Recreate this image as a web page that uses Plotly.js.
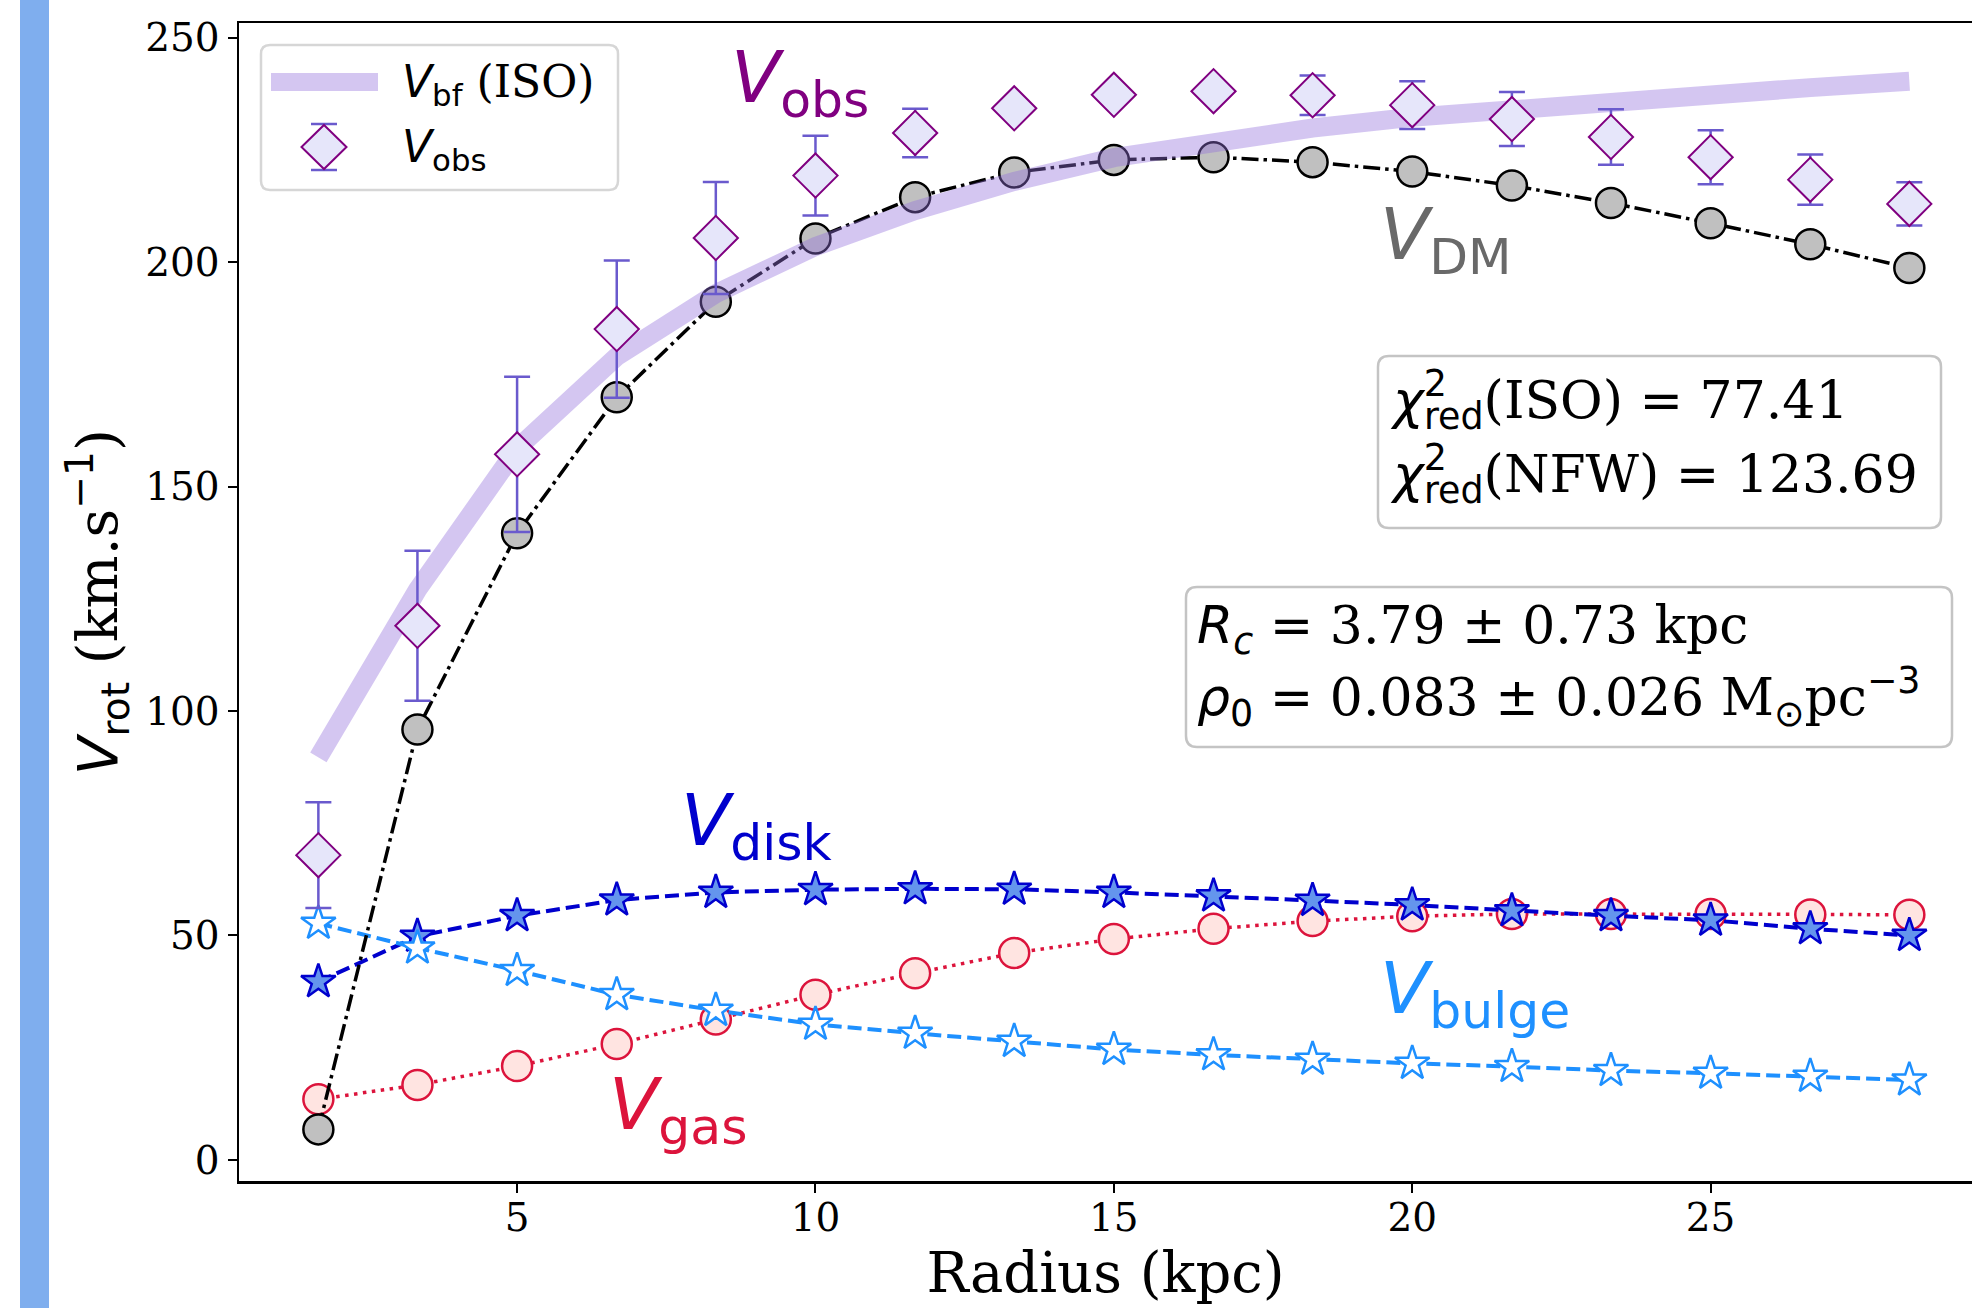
<!DOCTYPE html>
<html>
<head>
<meta charset="utf-8">
<script src="https://cdn.plot.ly/plotly-3.0.1.min.js"></script>
<style>
  html, body { margin: 0; padding: 0; background: #ffffff; overflow: hidden; }
  #chart { position: absolute; left: 0; top: 0; width: 1972px; height: 1308px; }
  #bar { position: absolute; left: 20px; top: 0; width: 29px; height: 1308px; background: #7FAEEE; z-index: 5; }
</style>
</head>
<body>
<div id="chart"></div>
<div id="bar"></div>
<script>
// ---- data ----
const radius = [1.67, 3.33, 5.00, 6.67, 8.33, 10.00, 11.67, 13.33, 15.00, 16.67, 18.33, 20.00, 21.67, 23.33, 25.00, 26.67, 28.33];
const vObs    = [67.9, 119.0, 157.2, 185.1, 205.4, 219.3, 228.8, 234.3, 237.3, 238.1, 237.2, 235.0, 231.9, 227.9, 223.4, 218.4, 213.0];
const vObsErr = [11.8, 16.7, 17.3, 15.3, 12.5, 8.9, 5.4, 1.5, 1.0, 1.0, 4.4, 5.3, 6.0, 6.2, 6.0, 5.6, 4.8];
const vBf     = [89.7, 127.0, 158.5, 179.0, 193.0, 203.5, 211.5, 218.0, 223.3, 227.0, 229.9, 232.3, 234.2, 235.9, 237.4, 238.9, 240.3];
const vDM     = [6.8, 95.9, 139.6, 169.9, 191.2, 205.3, 214.5, 220.0, 222.8, 223.4, 222.3, 220.2, 217.1, 213.2, 208.7, 204.0, 198.7];
const vDisk   = [39.7, 49.8, 54.4, 57.9, 59.6, 60.2, 60.4, 60.3, 59.6, 58.8, 57.8, 56.8, 55.5, 54.4, 53.4, 51.5, 50.0];
const vGas    = [13.5, 16.7, 20.9, 25.8, 31.3, 36.8, 41.6, 46.1, 49.2, 51.5, 53.2, 54.3, 54.8, 54.8, 54.8, 54.7, 54.6];
const vBulge  = [52.7, 47.2, 42.2, 36.8, 33.3, 30.2, 28.2, 26.4, 24.6, 23.4, 22.4, 21.5, 20.8, 19.9, 19.3, 18.6, 17.8];
const xTicks = [5, 10, 15, 20, 25];
const yTicks = [0, 50, 100, 150, 200, 250];

// ---- helpers for decorations (pixel -> paper) ----
const PL = 239, PR = 1972, PT = 23, PB = 1181;
const px = p => (p - PL) / (PR - PL);
const py = p => (PB - p) / (PB - PT);
const P = (x, y) => px(x).toFixed(5) + ',' + py(y).toFixed(5);
function roundRect(x0, y0, x1, y1, r) {
  return 'M' + P(x0 + r, y0) + ' L' + P(x1 - r, y0) + ' Q' + P(x1, y0) + ' ' + P(x1, y0 + r) +
         ' L' + P(x1, y1 - r) + ' Q' + P(x1, y1) + ' ' + P(x1 - r, y1) +
         ' L' + P(x0 + r, y1) + ' Q' + P(x0, y1) + ' ' + P(x0, y1 - r) +
         ' L' + P(x0, y0 + r) + ' Q' + P(x0, y0) + ' ' + P(x0 + r, y0) + ' Z';
}
const S = s => '<span style="font-family:DejaVu Sans">' + s + '</span>';

const traces = [
  { x: radius, y: vGas, mode: 'lines+markers', name: 'V_gas',
    line: { color: 'crimson', width: 3.5, dash: '3.5px,5.5px' },
    marker: { symbol: 'circle', size: 30, color: 'mistyrose', line: { color: 'crimson', width: 2.5 } } },
  { x: radius, y: vDisk, mode: 'lines+markers', name: 'V_disk',
    line: { color: 'mediumblue', width: 4, dash: '14px,6px' },
    marker: { symbol: 'star', size: 26, color: 'cornflowerblue', line: { color: 'mediumblue', width: 2.5 } } },
  { x: radius, y: vBulge, mode: 'lines+markers', name: 'V_bulge',
    line: { color: 'dodgerblue', width: 4, dash: '14px,6px' },
    marker: { symbol: 'star', size: 26, color: 'white', line: { color: 'dodgerblue', width: 2.5 } } },
  { x: radius, y: vDM, mode: 'lines+markers', name: 'V_DM',
    line: { color: 'black', width: 3.5, dash: '17px,5px,3.5px,5px' },
    marker: { symbol: 'circle', size: 30, color: 'silver', line: { color: 'black', width: 2.5 } } },
  { x: radius, y: vBf, mode: 'lines', name: 'V_bf (ISO)',
    line: { color: 'rgba(147,112,219,0.4)', width: 19 } },
  { x: radius, y: vObs, mode: 'markers', name: 'V_obs',
    error_y: { type: 'data', array: vObsErr, visible: true, color: 'slateblue', thickness: 2.5, width: 13 },
    marker: { symbol: 'diamond', size: 34, color: 'lavender', line: { color: 'purple', width: 2 } } }
];

const shapes = [
  // legend frame
  { type: 'path', xref: 'paper', yref: 'paper', path: roundRect(261, 45, 618, 190, 9),
    fillcolor: 'rgba(255,255,255,0.8)', line: { color: '#d6d6d6', width: 2.5 } },
  // legend glyph: fit band
  { type: 'line', xref: 'paper', yref: 'paper', x0: px(271), x1: px(378), y0: py(82), y1: py(82),
    line: { color: 'rgba(147,112,219,0.4)', width: 18 } },
  // legend glyph: error bar + diamond
  { type: 'line', xref: 'paper', yref: 'paper', x0: px(324), x1: px(324), y0: py(124), y1: py(170),
    line: { color: 'slateblue', width: 2.5 } },
  { type: 'line', xref: 'paper', yref: 'paper', x0: px(311), x1: px(337), y0: py(124), y1: py(124),
    line: { color: 'slateblue', width: 2.5 } },
  { type: 'line', xref: 'paper', yref: 'paper', x0: px(311), x1: px(337), y0: py(170), y1: py(170),
    line: { color: 'slateblue', width: 2.5 } },
  { type: 'path', xref: 'paper', yref: 'paper',
    path: 'M' + P(324, 125) + ' L' + P(346.5, 147) + ' L' + P(324, 169) + ' L' + P(301.5, 147) + ' Z',
    fillcolor: 'lavender', line: { color: 'purple', width: 2 } },
  // fit-statistics boxes
  { type: 'path', xref: 'paper', yref: 'paper', path: roundRect(1378, 356, 1941, 528, 11),
    fillcolor: 'rgba(255,255,255,0.8)', line: { color: '#c4c4c4', width: 2.5 } },
  { type: 'path', xref: 'paper', yref: 'paper', path: roundRect(1186, 587, 1952, 747, 11),
    fillcolor: 'rgba(255,255,255,0.8)', line: { color: '#c4c4c4', width: 2.5 } }
];

const serif = 'DejaVu Serif';
const sans = 'DejaVu Sans';
const ann = (xp, yp, text, size, family, color) => ({
  xref: 'paper', yref: 'paper', x: px(xp), y: py(yp), xanchor: 'left', yanchor: 'top',
  text: text, showarrow: false, font: { family: family, size: size, color: color || 'black' }
});
const lab = (xd, yd, text, color) => ({
  xref: 'x', yref: 'y', x: xd, y: yd, xanchor: 'left', yanchor: 'top', text: text,
  showarrow: false, font: { family: sans, size: 72, color: color }
});

const annotations = [
  // legend texts
  ann(400, 54, S('<i>V</i><sub>bf</sub>') + ' (ISO)', 44, serif),
  ann(400, 119, '<i>V</i><sub>obs</sub>', 44, sans),
  // chi-square box
  ann(1388, 360, S('<i>χ</i>') + '<sup><span style="font-family:DejaVu Sans;letter-spacing:-23px">2</span></sup><sub>' + S('red') + '</sub>(ISO) ' + S('=') + ' 77.41', 52, serif),
  ann(1388, 434, S('<i>χ</i>') + '<sup><span style="font-family:DejaVu Sans;letter-spacing:-23px">2</span></sup><sub>' + S('red') + '</sub>(NFW) ' + S('=') + ' 123.69', 52, serif),
  // ISO parameter box
  ann(1195, 593, S('<i>R</i><sub><i>c</i></sub> =') + ' 3.79 ± 0.73 kpc', 52, serif),
  ann(1195, 657, S('<i>ρ</i><sub>0</sub> =') + ' 0.083 ± 0.026 M<sub>' + S('⊙') + '</sub>pc<sup>' + S('−3') + '</sup>', 52, serif),
  // curve labels
  lab(8.55, 251.1, '<i>V</i><sub>obs</sub>', 'purple'),
  lab(19.43, 216.2, '<i>V</i><sub>DM</sub>', 'dimgray'),
  lab(7.72, 85.6, '<i>V</i><sub>disk</sub>', 'mediumblue'),
  lab(6.51, 22.2, '<i>V</i><sub>gas</sub>', 'crimson'),
  lab(19.43, 48.1, '<i>V</i><sub>bulge</sub>', 'dodgerblue')
];

const layout = {
  width: 1972, height: 1308,
  margin: { l: PL, r: 1972 - PR, t: PT, b: 1308 - PB, pad: 0 },
  paper_bgcolor: 'white', plot_bgcolor: 'white',
  showlegend: false,
  xaxis: {
    range: [0.34, 29.38], tickvals: xTicks, ticktext: xTicks.map(String),
    showgrid: false, zeroline: false, showline: true, mirror: true,
    linecolor: 'black', linewidth: 2.5, ticks: 'outside', ticklen: 9, tickwidth: 2, tickcolor: 'black',
    tickfont: { family: serif, size: 39, color: 'black' }, ticklabelstandoff: -8,
    title: { text: 'Radius (kpc)', font: { family: serif, size: 56, color: 'black' }, standoff: 14 }
  },
  yaxis: {
    range: [-4.7, 253.3], tickvals: yTicks, ticktext: yTicks.map(String),
    showgrid: false, zeroline: false, showline: true, mirror: false,
    linecolor: 'black', linewidth: 2.5, ticks: 'outside', ticklen: 9, tickwidth: 2, tickcolor: 'black',
    tickfont: { family: serif, size: 39, color: 'black' },
    title: { text: S('<i>V</i><sub>rot</sub>') + ' (km.s<sup>' + S('−1') + '</sup>)',
             font: { family: serif, size: 56, color: 'black' }, standoff: 10 }
  },
  shapes: shapes,
  annotations: annotations
};

Plotly.newPlot('chart', traces, layout, { staticPlot: true, displayModeBar: false });
</script>
</body>
</html>
